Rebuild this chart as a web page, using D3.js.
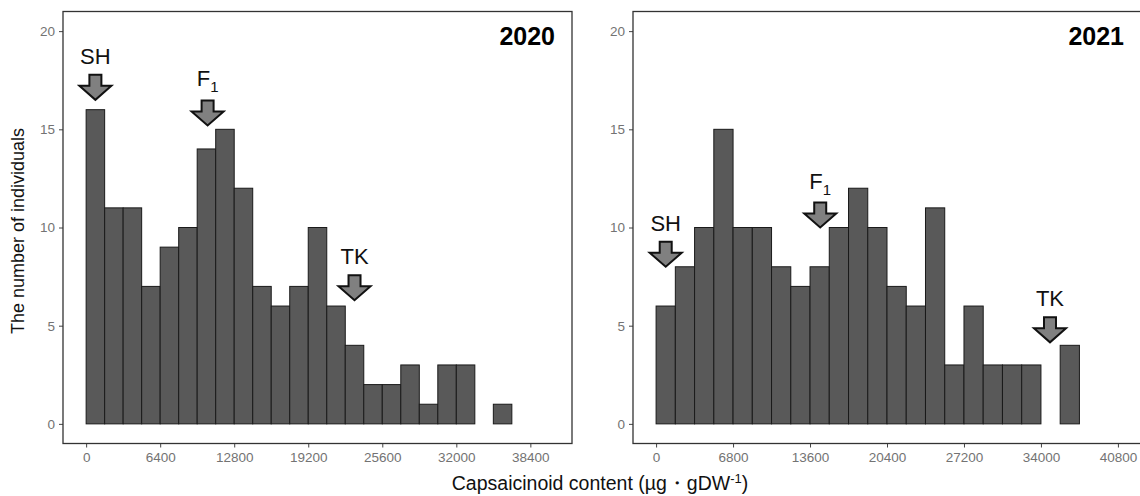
<!DOCTYPE html>
<html>
<head>
<meta charset="utf-8">
<script src="https://cdn.jsdelivr.net/npm/d3@7.9.0/dist/d3.min.js"></script>
<style>
  html, body { margin: 0; padding: 0; background: #fff; }
  svg { display: block; font-family: "Liberation Sans", Arial, sans-serif; }
</style>
</head>
<body>
<svg id="chart" width="1140" height="496"></svg>
<script>
// histogram counts
const counts2020 = [16, 11, 11, 7, 9, 10, 14, 15, 12, 7, 6, 7, 10, 6, 4, 2, 2, 3, 1, 3, 3, 0, 1, 0, 0];
const binWidth2020 = 1600;
const ticks2020 = [0, 6400, 12800, 19200, 25600, 32000, 38400];

const counts2021 = [6, 8, 10, 15, 10, 10, 8, 7, 8, 10, 12, 10, 7, 6, 11, 3, 6, 3, 3, 3, 0, 4, 0, 0];
const binWidth2021 = 1700;
const ticks2021 = [0, 6800, 13600, 20400, 27200, 34000, 40800];

const yTicks = [0, 5, 10, 15, 20];

// arrow markers: label, subscript, x value, y value of the arrow tip
const markers2020 = [
  { label: 'SH', sub: '', x: 800, y: 16.5 },
  { label: 'F', sub: '1', x: 10500, y: 15.2 },
  { label: 'TK', sub: '', x: 23200, y: 6.3 }
];
const markers2021 = [
  { label: 'SH', sub: '', x: 850, y: 8.0 },
  { label: 'F', sub: '1', x: 14500, y: 10.0 },
  { label: 'TK', sub: '', x: 34800, y: 4.15 }
];

const svg = d3.select('#chart');

function drawPanel(opts) {
  const { counts, binWidth, ticks, markers, year, left, right } = opts;
  const top = 11.5, bottom = 443.5;

  const xMax = counts.length * binWidth;
  const pad = xMax * 0.05;
  const x = d3.scaleLinear().domain([-pad, xMax + pad]).range([left, right]);
  const y = d3.scaleLinear().domain([-1, 21]).range([bottom, top]);

  const g = svg.append('g');

  // bars (zero bins show up as a flat line at 0)
  g.selectAll('rect.bar')
    .data(counts)
    .join('rect')
    .attr('class', 'bar')
    .attr('x', (d, i) => x(i * binWidth))
    .attr('width', (d, i) => x((i + 1) * binWidth) - x(i * binWidth))
    .attr('y', d => y(d))
    .attr('height', d => y(0) - y(d))
    .attr('fill', '#595959')
    .attr('stroke', '#1a1a1a')
    .attr('stroke-width', 1);

  // axes
  const xAxis = d3.axisBottom(x).tickValues(ticks).tickSize(4).tickPadding(5).tickFormat(d3.format('d'));
  const yAxis = d3.axisLeft(y).tickValues(yTicks).tickSize(4).tickPadding(4);

  const gx = g.append('g').attr('transform', `translate(0,${bottom})`).call(xAxis);
  const gy = g.append('g').attr('transform', `translate(${left},0)`).call(yAxis);
  [gx, gy].forEach(a => {
    a.select('.domain').remove();
    a.selectAll('.tick line').attr('stroke', '#444');
    a.selectAll('.tick text')
      .attr('fill', '#737373')
      .style('font-size', '13.5px')
      .style('font-family', '"Liberation Sans", Arial, sans-serif');
  });

  // panel border
  g.append('rect')
    .attr('x', left).attr('y', top)
    .attr('width', right - left).attr('height', bottom - top)
    .attr('fill', 'none')
    .attr('stroke', '#333')
    .attr('stroke-width', 1.3);

  // year label
  g.append('text')
    .attr('x', right - 17).attr('y', 45)
    .attr('text-anchor', 'end')
    .style('font-size', '25px')
    .style('font-weight', 'bold')
    .text(year);

  // block arrows
  const arrow = (cx, ty) => {
    const sw = 6, hw = 16, sh = 25, hh = 14;
    return `M${cx - sw},${ty - sh} L${cx + sw},${ty - sh} L${cx + sw},${ty - hh} L${cx + hw},${ty - hh} ` +
      `L${cx},${ty} L${cx - hw},${ty - hh} L${cx - sw},${ty - hh} Z`;
  };

  const mk = g.selectAll('g.marker').data(markers).join('g').attr('class', 'marker');
  mk.append('path')
    .attr('d', d => arrow(x(d.x), y(d.y)))
    .attr('fill', '#808080')
    .attr('stroke', '#111')
    .attr('stroke-width', 2)
    .attr('stroke-linejoin', 'miter');
  const lbl = mk.append('text')
    .attr('x', d => x(d.x))
    .attr('y', d => y(d.y) - (d.sub ? 39 : 36))
    .attr('text-anchor', 'middle')
    .style('font-size', '22px')
    .attr('fill', '#111');
  lbl.append('tspan').text(d => d.label);
  lbl.append('tspan')
    .attr('dy', 6)
    .style('font-size', '15px')
    .text(d => d.sub);
}

drawPanel({ counts: counts2020, binWidth: binWidth2020, ticks: ticks2020, markers: markers2020, year: '2020', left: 63, right: 572 });
drawPanel({ counts: counts2021, binWidth: binWidth2021, ticks: ticks2021, markers: markers2021, year: '2021', left: 633, right: 1141 });

// axis titles
svg.append('text')
  .attr('transform', 'translate(24,231) rotate(-90)')
  .attr('text-anchor', 'middle')
  .style('font-size', '18px')
  .attr('fill', '#111')
  .text('The number of individuals');

const xt = svg.append('text')
  .attr('x', 600).attr('y', 490)
  .attr('text-anchor', 'middle')
  .style('font-size', '19.5px')
  .attr('fill', '#111');
xt.append('tspan').text('Capsaicinoid content (µg・gDW');
xt.append('tspan').attr('dy', -7).style('font-size', '13px').text('-1');
xt.append('tspan').attr('dy', 7).text(')');
</script>
</body>
</html>
